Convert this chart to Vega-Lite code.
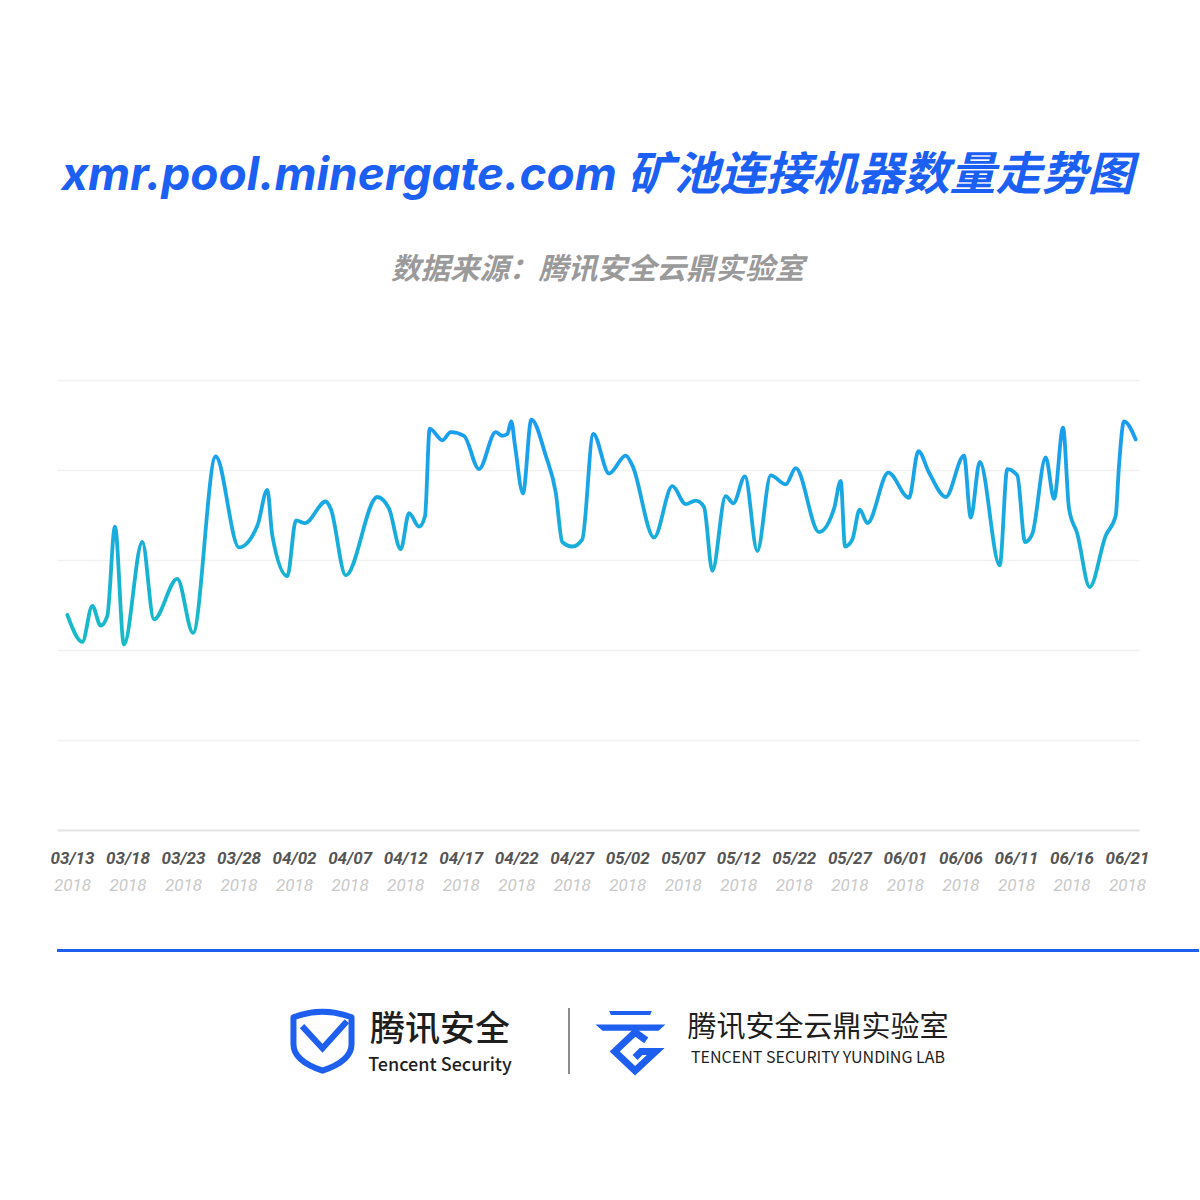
{
  "$schema": "https://vega.github.io/schema/vega-lite/v6.json",
  "background": "white",
  "padding": {"top": 152, "left": 50, "right": 0, "bottom": 0},
  "title": {
    "text": "xmr.pool.minergate.com 矿池连接机器数量走势图",
    "subtitle": "数据来源：腾讯安全云鼎实验室",
    "font": "Inter, Noto Sans CJK SC",
    "fontSize": 46,
    "fontWeight": "bold",
    "fontStyle": "italic",
    "color": "#1b60f3",
    "subtitleFont": "Noto Sans CJK SC",
    "subtitleFontSize": 29.5,
    "subtitleFontWeight": "bold",
    "subtitleFontStyle": "italic",
    "subtitleColor": "#9a9a9a",
    "subtitlePadding": 56,
    "offset": 95,
    "anchor": "middle",
    "frame": "bounds",
    "dx": -27
  },
  "config": {"view": {"stroke": null}},
  "columns": 1,
  "align": "none",
  "bounds": "full",
  "spacing": 54,
  "concat": [
    {
      "width": 1082,
      "height": 450,
      "data": {"values": [
        {"idx": -0.42, "count": 23.9}, {"idx": 0.93, "count": 20.9}, {"idx": 1.83, "count": 24.9}, {"idx": 2.58, "count": 22.7},
        {"idx": 3.18, "count": 23.8}, {"idx": 3.87, "count": 33.7}, {"idx": 4.68, "count": 20.6}, {"idx": 6.33, "count": 32.0},
        {"idx": 7.38, "count": 23.4}, {"idx": 9.48, "count": 27.9}, {"idx": 10.9, "count": 21.9}, {"idx": 12.94, "count": 41.5},
        {"idx": 15.04, "count": 31.4}, {"idx": 16.69, "count": 33.8}, {"idx": 17.59, "count": 37.8}, {"idx": 18.04, "count": 32.7},
        {"idx": 19.39, "count": 28.2}, {"idx": 20.17, "count": 34.4}, {"idx": 20.98, "count": 34.1}, {"idx": 22.85, "count": 36.5},
        {"idx": 23.3, "count": 35.7}, {"idx": 24.65, "count": 28.3}, {"idx": 27.49, "count": 37.0}, {"idx": 28.55, "count": 35.7},
        {"idx": 29.6, "count": 31.2}, {"idx": 30.35, "count": 35.2}, {"idx": 31.25, "count": 33.7}, {"idx": 31.79, "count": 34.9},
        {"idx": 32.21, "count": 44.6}, {"idx": 33.35, "count": 43.3}, {"idx": 34.1, "count": 44.2}, {"idx": 35.3, "count": 43.8},
        {"idx": 36.65, "count": 40.1}, {"idx": 38.15, "count": 44.2}, {"idx": 38.75, "count": 43.8}, {"idx": 39.2, "count": 44.0},
        {"idx": 39.56, "count": 45.4}, {"idx": 39.89, "count": 42.7}, {"idx": 40.61, "count": 37.4}, {"idx": 41.36, "count": 45.6},
        {"idx": 42.66, "count": 41.6}, {"idx": 43.56, "count": 37.5}, {"idx": 44.15, "count": 32.0}, {"idx": 45.05, "count": 31.5},
        {"idx": 45.95, "count": 32.3}, {"idx": 46.94, "count": 44.0}, {"idx": 48.36, "count": 39.6}, {"idx": 49.86, "count": 41.6},
        {"idx": 50.46, "count": 40.5}, {"idx": 52.41, "count": 32.5}, {"idx": 54.06, "count": 38.2}, {"idx": 55.26, "count": 36.2},
        {"idx": 56.16, "count": 36.6}, {"idx": 56.91, "count": 35.9}, {"idx": 57.66, "count": 28.8}, {"idx": 58.86, "count": 37.1},
        {"idx": 59.55, "count": 36.3}, {"idx": 60.6, "count": 39.3}, {"idx": 61.71, "count": 31.0}, {"idx": 62.92, "count": 39.4},
        {"idx": 64.27, "count": 38.4}, {"idx": 65.17, "count": 40.2}, {"idx": 67.27, "count": 33.1}, {"idx": 68.62, "count": 35.7},
        {"idx": 69.22, "count": 38.8}, {"idx": 69.61, "count": 31.5}, {"idx": 70.27, "count": 32.3}, {"idx": 70.93, "count": 35.6},
        {"idx": 71.62, "count": 34.1}, {"idx": 73.51, "count": 39.7}, {"idx": 75.37, "count": 36.9}, {"idx": 76.21, "count": 42.1},
        {"idx": 77.18, "count": 39.7}, {"idx": 78.68, "count": 37.0}, {"idx": 80.32, "count": 41.6}, {"idx": 80.93, "count": 34.7},
        {"idx": 81.74, "count": 40.9}, {"idx": 83.54, "count": 29.4}, {"idx": 84.22, "count": 40.1}, {"idx": 85.12, "count": 39.4},
        {"idx": 85.82, "count": 32.0}, {"idx": 86.47, "count": 32.9}, {"idx": 87.68, "count": 41.4}, {"idx": 88.43, "count": 36.8},
        {"idx": 89.24, "count": 44.7}, {"idx": 89.78, "count": 35.7}, {"idx": 90.53, "count": 32.9}, {"idx": 91.64, "count": 27.0},
        {"idx": 93.08, "count": 32.7}, {"idx": 93.98, "count": 34.9}, {"idx": 94.28, "count": 40.5}, {"idx": 94.73, "count": 45.4},
        {"idx": 95.78, "count": 43.4}
      ]},
      "layer": [
        {
          "mark": {
            "type": "line",
            "interpolate": "monotone",
            "strokeWidth": 3.8,
            "strokeCap": "round",
            "strokeJoin": "round",
            "stroke": {
              "gradient": "linear", "x1": 0, "y1": 1, "x2": 0, "y2": 0,
              "stops": [{"offset": 0, "color": "#17bcc6"}, {"offset": 1, "color": "#1a9cf2"}]
            }
          },
          "encoding": {
            "x": {
              "field": "idx", "type": "quantitative",
              "scale": {"domain": [-1.35, 96.08], "nice": false, "zero": false},
              "axis": {
                "orient": "bottom",
                "values": [0, 5, 10, 15, 20, 25, 30, 35, 40, 45, 50, 55, 60, 65, 70, 75, 80, 85, 90, 95],
                "labelExpr": "['03/13','03/18','03/23','03/28','04/02','04/07','04/12','04/17','04/22','04/27','05/02','05/07','05/12','05/22','05/27','06/01','06/06','06/11','06/16','06/21'][round(datum.value/5)]",
                "title": null, "grid": false, "ticks": false,
                "domain": true, "domainColor": "#e4e4e4", "domainWidth": 2,
                "labelFont": "Roboto", "labelFontSize": 17, "labelFontWeight": "bold", "labelFontStyle": "italic",
                "labelColor": "#555555", "labelPadding": 20, "labelOverlap": false, "labelFlush": false
              }
            },
            "y": {
              "field": "count", "type": "quantitative",
              "scale": {"domain": [0, 50], "nice": false, "zero": true},
              "axis": {
                "values": [10, 20, 30, 40, 50], "grid": true, "gridColor": "#f1f1f1", "gridWidth": 1.5,
                "labels": false, "ticks": false, "domain": false, "title": null
              }
            }
          }
        },
        {
          "mark": {"type": "line", "strokeOpacity": 0},
          "encoding": {
            "x": {
              "field": "idx", "type": "quantitative",
              "scale": {"domain": [-1.35, 96.08], "nice": false, "zero": false},
              "axis": {
                "orient": "bottom",
                "values": [0, 5, 10, 15, 20, 25, 30, 35, 40, 45, 50, 55, 60, 65, 70, 75, 80, 85, 90, 95],
                "labelExpr": "'2018'",
                "title": null, "grid": false, "ticks": false, "domain": false,
                "labelFont": "Roboto", "labelFontSize": 17, "labelFontStyle": "italic",
                "labelColor": "#c9c9c9", "labelPadding": 47, "labelOverlap": false, "labelFlush": false
              }
            },
            "y": {"field": "count", "type": "quantitative", "axis": null}
          }
        }
      ],
      "resolve": {"axis": {"x": "independent", "y": "independent"}}
    },
    {
      "width": 1142, "height": 3,
      "view": {"fill": "#1f5ff0", "stroke": null},
      "data": {"values": [{}]},
      "mark": {"type": "point", "opacity": 0},
      "encoding": {}
    },
    {
      "columns": 7,
      "align": "none",
      "bounds": "flush",
      "spacing": 0,
      "resolve": {"scale": {"size": "independent", "y": "independent"}},
      "concat": [
        {
          "width": 234, "height": 66,
          "data": {"values": [{}]},
          "mark": {"type": "point", "opacity": 0},
          "encoding": {}
        },
        {
          "width": 63, "height": 66,
          "data": {"values": [{"icon": "shield"}]},
          "layer": [
            {
              "mark": {"type": "point", "shape": "M-0.88,-0.72 Q0,-1.05 0.88,-0.72 L0.88,0.1 C0.88,0.5 0.45,0.75 0,0.9 C-0.45,0.75 -0.88,0.5 -0.88,0.1 Z", "size": 4356, "filled": false, "stroke": "#1f5ff0", "strokeWidth": 6, "opacity": 1, "strokeJoin": "round"},
              "encoding": {}
            },
            {
              "mark": {"type": "point", "shape": "M-0.62,-0.45 L0,0.22 L0.74,-0.6", "size": 4356, "filled": false, "stroke": "#1f5ff0", "strokeWidth": 6, "opacity": 1, "strokeJoin": "miter"},
              "encoding": {}
            }
          ]
        },
        {
          "width": 172, "height": 66,
          "data": {"values": [{"label": "腾讯安全", "line": "cn"}, {"label": "Tencent Security", "line": "en"}]},
          "mark": {"type": "text", "font": "Noto Sans CJK SC", "fontWeight": 500, "color": "#1e1e1e", "baseline": "middle", "align": "center", "dy": 7},
          "encoding": {
            "y": {"field": "line", "type": "nominal", "scale": {"type": "point", "domain": ["cn", "en"], "padding": 0.4}, "axis": null},
            "text": {"field": "label"},
            "size": {"field": "line", "type": "ordinal", "scale": {"domain": ["cn", "en"], "range": [35, 18]}, "legend": null}
          }
        },
        {
          "width": 42, "height": 66,
          "data": {"values": [{}]},
          "mark": {"type": "point", "opacity": 0},
          "encoding": {}
        },
        {
          "width": 2, "height": 66,
          "view": {"fill": "#8c8c8c", "stroke": null},
          "data": {"values": [{}]},
          "mark": {"type": "point", "opacity": 0},
          "encoding": {}
        },
        {
          "width": 121, "height": 66,
          "data": {"values": [{"icon": "cloud"}]},
          "layer": [
            {
              "mark": {"type": "point", "shape": "M-0.61,-0.86 L0.61,-0.86 L0.56,-0.74 L-0.56,-0.74 Z M-1,-0.47 L1,-0.47 L0.8,-0.29 L-0.8,-0.29 Z", "size": 4900, "filled": true, "fill": "#1f5ff0", "opacity": 1},
              "encoding": {}
            },
            {
              "mark": {"type": "point", "shape": "M0.45,-0.02 L0.13,-0.25 L-0.45,0.3 L0.13,0.85 L0.72,0.3 L0.3,0.3 L0.13,0.47", "size": 4900, "filled": false, "stroke": "#1f5ff0", "strokeWidth": 7, "opacity": 1, "strokeJoin": "miter"},
              "encoding": {}
            }
          ]
        },
        {
          "width": 254, "height": 66,
          "data": {"values": [{"label": "腾讯安全云鼎实验室", "line": "cn2"}, {"label": "TENCENT SECURITY YUNDING LAB", "line": "en2"}]},
          "mark": {"type": "text", "font": "Noto Sans CJK SC", "fontWeight": 400, "color": "#1e1e1e", "baseline": "middle", "align": "center", "dy": 2},
          "encoding": {
            "y": {"field": "line", "type": "nominal", "scale": {"type": "point", "domain": ["cn2", "en2"], "padding": 0.62}, "axis": null},
            "text": {"field": "label"},
            "size": {"field": "line", "type": "ordinal", "scale": {"domain": ["cn2", "en2"], "range": [29, 16]}, "legend": null}
          }
        }
      ]
    }
  ]
}
